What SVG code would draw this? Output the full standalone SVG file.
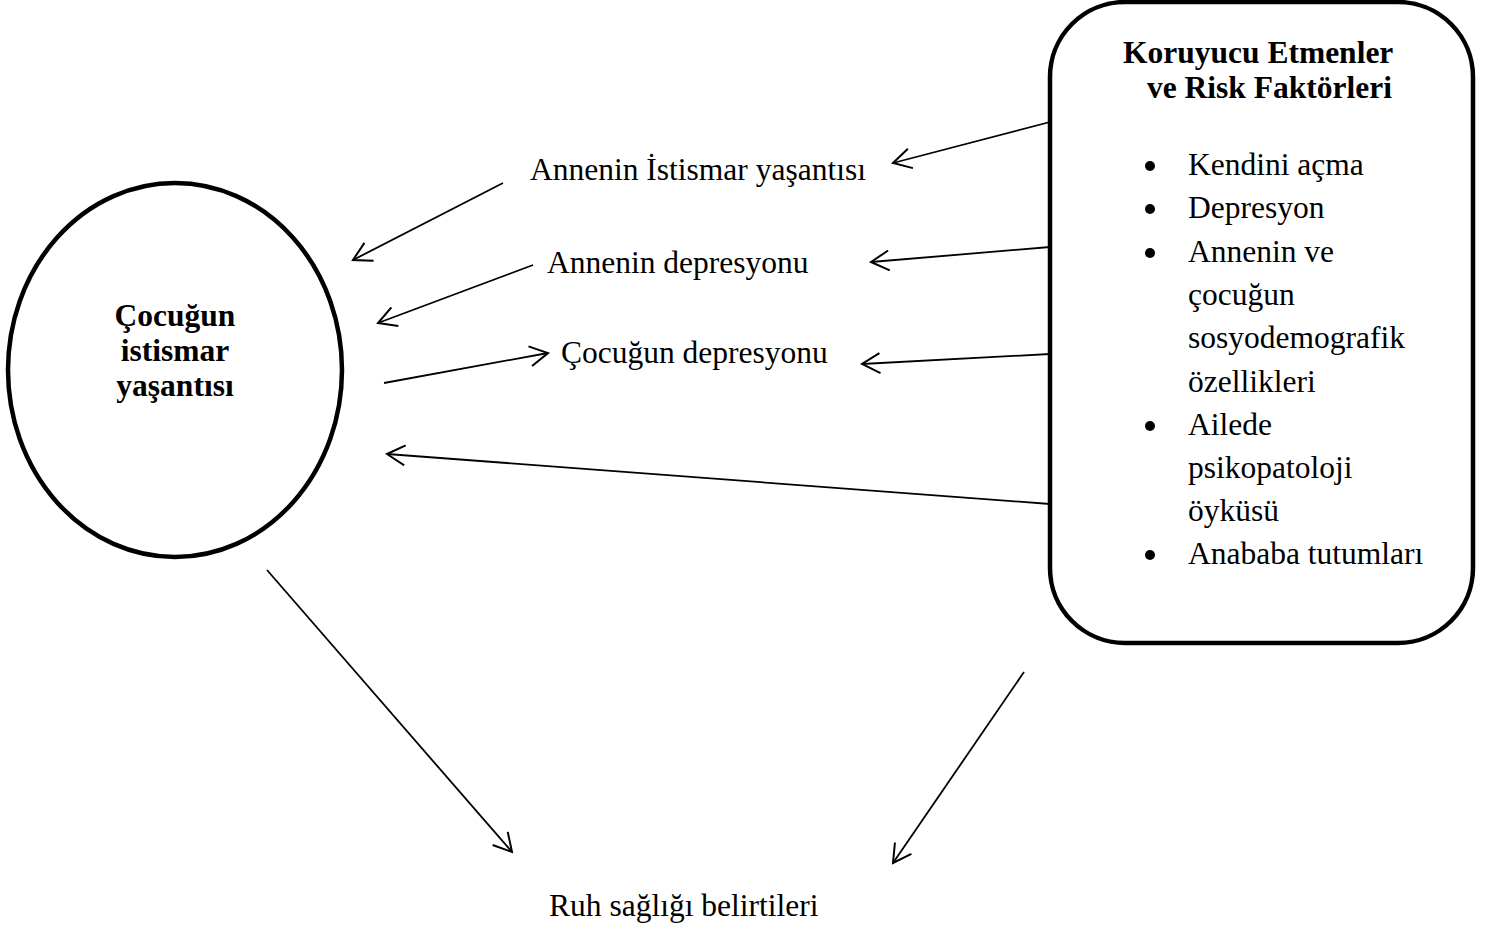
<svg xmlns="http://www.w3.org/2000/svg" width="1491" height="931" viewBox="0 0 1491 931">
<style>
.t{font-family:"Liberation Serif","Times New Roman",serif;font-size:31.5px;fill:#000}
.b{font-weight:bold}
.c{stroke:#000;stroke-width:1.8;fill:none;marker-end:url(#ah)}
.shape{stroke:#000;stroke-width:4.5;fill:#fff}
</style>
<defs>
<marker id="ah" viewBox="0 0 22 22" refX="20" refY="11" markerWidth="22" markerHeight="22" markerUnits="userSpaceOnUse" orient="auto">
<path d="M2,1 L20,11 L2,21" fill="none" stroke="#000" stroke-width="2"/>
</marker>
</defs>
<rect width="1491" height="931" fill="#fff"/>
<g id="connectors">
<line class="c" x1="1050" y1="122" x2="893" y2="163"/>
<line class="c" x1="503" y1="183" x2="353" y2="260"/>
<line class="c" x1="1050" y1="247" x2="871" y2="262"/>
<line class="c" x1="533" y1="265" x2="378" y2="323"/>
<line class="c" x1="384" y1="383" x2="548" y2="353"/>
<line class="c" x1="1050" y1="354" x2="862" y2="364"/>
<line class="c" x1="1050" y1="504" x2="387" y2="454"/>
<line class="c" x1="267" y1="570" x2="512" y2="852"/>
<line class="c" x1="1024" y1="672" x2="893" y2="863"/>
</g>
<g id="cocugun-istismar">
<ellipse class="shape" cx="175" cy="370" rx="167" ry="187"/>
<text class="t b" text-anchor="middle" x="175" y="326">Çocuğun</text>
<text class="t b" text-anchor="middle" x="175" y="361">istismar</text>
<text class="t b" text-anchor="middle" x="175" y="396">yaşantısı</text>
</g>
<g id="koruyucu-etmenler">
<rect class="shape" x="1050" y="2" width="423" height="641" rx="75" ry="75"/>
<text class="t b" x="1123" y="63">Koruyucu Etmenler</text>
<text class="t b" x="1147" y="98">ve Risk Faktörleri</text>
<g fill="#000">
<circle cx="1150" cy="166" r="5"/>
<circle cx="1150" cy="209" r="5"/>
<circle cx="1150" cy="253" r="5"/>
<circle cx="1150" cy="426" r="5"/>
<circle cx="1150" cy="555" r="5"/>
</g>
<text class="t" x="1188" y="175">Kendini açma</text>
<text class="t" x="1188" y="218">Depresyon</text>
<text class="t" x="1188" y="262">Annenin ve</text>
<text class="t" x="1188" y="305">çocuğun</text>
<text class="t" x="1188" y="348">sosyodemografik</text>
<text class="t" x="1188" y="392">özellikleri</text>
<text class="t" x="1188" y="435">Ailede</text>
<text class="t" x="1188" y="478">psikopatoloji</text>
<text class="t" x="1188" y="521">öyküsü</text>
<text class="t" x="1188" y="564">Anababa tutumları</text>
</g>
<g id="annenin-istismar"><text class="t" x="530" y="180">Annenin İstismar yaşantısı</text></g>
<g id="annenin-depresyonu"><text class="t" x="547" y="273">Annenin depresyonu</text></g>
<g id="cocugun-depresyonu"><text class="t" x="561" y="363">Çocuğun depresyonu</text></g>
<g id="ruh-sagligi"><text class="t" x="549" y="916">Ruh sağlığı belirtileri</text></g>
</svg>
